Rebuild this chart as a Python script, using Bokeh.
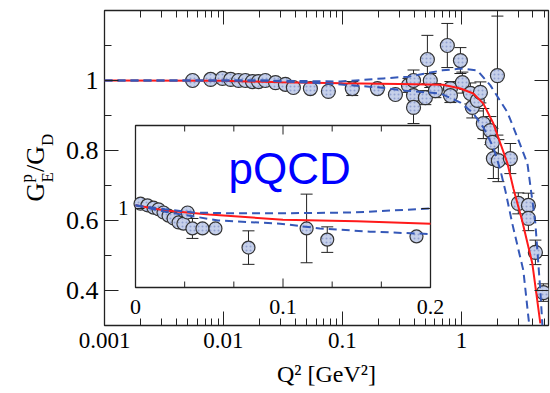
import math
from bokeh.plotting import figure
from bokeh.models import (ColumnDataSource, Whisker, TeeHead, LogAxis, LinearAxis,
                          FixedTicker, Range1d, LinearScale)
from bokeh.layouts import row
from bokeh.core.properties import value
from bokeh.embed import file_html
from bokeh.resources import INLINE

# ---------------- main panel data ----------------
q2 = [0.0055, 0.0078, 0.0098, 0.0115, 0.0134, 0.0153, 0.0175, 0.0197, 0.0225,
      0.0274, 0.0332, 0.0387, 0.0538, 0.0762, 0.121, 0.197, 0.279, 0.359,
      0.396, 0.396, 0.396, 0.498, 0.518, 0.548, 0.605, 0.762, 0.809, 0.809,
      0.982, 1.019, 1.19, 1.236, 1.362, 1.445, 1.53, 1.753, 1.823, 1.858,
      2.009, 2.046, 2.58, 3.01, 3.66, 3.66, 4.19, 4.89]
ratio = [1.000, 1.003, 1.006, 1.003, 1.000, 1.000, 0.997, 0.997, 1.000,
         0.994, 0.989, 0.980, 0.977, 0.969, 0.977, 0.977, 0.960, 0.986,
         1.000, 0.957, 0.923, 0.951, 1.060, 1.000, 0.971, 1.100, 0.977, 0.957,
         1.057, 0.994, 0.963, 0.923, 0.943, 0.966, 0.877, 0.857, 0.823, 0.777,
         1.014, 0.771, 0.777, 0.649, 0.643, 0.606, 0.509, 0.394]
ratio_err = [0.004, 0.004, 0.004, 0.004, 0.004, 0.004, 0.004, 0.004, 0.004,
             0.005, 0.005, 0.006, 0.006, 0.008, 0.020, 0.012, 0.012, 0.020,
             0.030, 0.030, 0.046, 0.020, 0.069, 0.020, 0.020, 0.063, 0.020, 0.020,
             0.037, 0.030, 0.030, 0.030, 0.030, 0.030, 0.043, 0.040, 0.040, 0.057,
             0.170, 0.060, 0.043, 0.030, 0.035, 0.035, 0.035, 0.025]

fit_q2 = [0.001, 0.01, 0.03, 0.1, 0.3, 0.7, 0.982, 1.26, 1.53, 1.858, 2.13,
          2.44, 2.74, 3.24, 3.95, 4.61]
fit_ratio = [1.0, 0.999, 0.995, 0.992, 0.990, 0.988, 0.977, 0.963, 0.934,
             0.877, 0.820, 0.763, 0.691, 0.600, 0.477, 0.306]

upper_q2 = [0.001, 0.0205, 0.096, 0.221, 0.359, 0.692, 0.982, 1.362, 1.753,
            2.44, 2.96, 3.59, 4.19, 4.61, 4.80]
upper_ratio = [1.0, 1.0, 0.997, 1.006, 1.011, 1.029, 1.034, 1.029, 0.986,
               0.909, 0.837, 0.763, 0.591, 0.400, 0.300]

lower_q2 = [0.001, 0.0205, 0.0792, 0.208, 0.338, 0.667, 0.982, 1.26, 1.53,
            1.858, 2.13, 2.34, 2.68, 3.32, 3.66, 3.73]
lower_ratio = [1.0, 1.0, 0.991, 0.980, 0.971, 0.963, 0.937, 0.906, 0.866,
               0.809, 0.743, 0.686, 0.591, 0.457, 0.323, 0.300]

x_ticks = [0.001, 0.01, 0.1, 1.0]
x_tick_labels = ["0.001", "0.01", "0.1", "1"]
y_ticks = [0.4, 0.6, 0.8, 1.0]
y_tick_labels = ["0.4", "0.6", "0.8", "1"]
y_minor = [0.5, 0.7, 0.9, 1.1]

# ---------------- inset data ----------------
in_q2 = [0.0034, 0.0081, 0.0122, 0.0156, 0.019, 0.0224, 0.0258, 0.0292,
         0.0325, 0.0353, 0.0386, 0.0454, 0.0542, 0.0766, 0.116, 0.130, 0.1905]
in_ratio = [1.006, 1.004, 1.001, 0.999, 0.995, 0.991, 0.9875, 0.9825,
            0.981, 0.995, 0.975, 0.975, 0.975, 0.951, 0.975, 0.961, 0.965]
in_err = [0.002, 0.002, 0.002, 0.002, 0.002, 0.002, 0.002, 0.002,
          0.002, 0.002, 0.0125, 0.004, 0.004, 0.021, 0.043, 0.016, 0.004]

in_fit_q2 = [0.0, 0.02, 0.05, 0.1, 0.15, 0.2]
in_fit_ratio = [1.004, 0.9975, 0.9925, 0.986, 0.984, 0.981]
in_up_q2 = [0.0, 0.02, 0.039, 0.064, 0.1, 0.148, 0.2]
in_up_ratio = [1.004, 0.999, 0.995, 0.994, 0.994, 0.995, 1.0]
in_lo_q2 = [0.0, 0.02, 0.056, 0.098, 0.125, 0.159, 0.2]
in_lo_ratio = [1.004, 0.996, 0.985, 0.981, 0.975, 0.971, 0.968]

in_x_range = (0.0, 0.2)
in_y_range = (0.901, 1.104)
in_x_ticks = [0.0, 0.1, 0.2]
in_x_tick_labels = ["0", "0.1", "0.2"]
in_x_minor = [1 / 30, 2 / 30, 4 / 30, 5 / 30]
in_y_ticks = [1.0]
in_y_tick_labels = ["1"]

# y-axis title pieces: G_E^p / G_D
title_parts = ["G", "E", "p", "/G", "D"]

# ---------------- layout (pixels, page coordinates) ----------------
W, H = 550, 393
TW = 60                                     # width of the y-title strip
FL, FR, FT, FB = 104, 548, 10, 325          # main frame box
IL, IR, IT, IB = 135, 430, 125, 287         # inset frame box
XR = (0.001, 5.4)
YR = (0.3, 1.2)

SERIF = "Liberation Serif"
RED = "#ff1a1a"
BLUE = "#3558b8"
FILL = "#c6d0ea"
EDGE = "#333333"
INK = "#222222"
HALF = math.pi / 2


def style_axis(ax, ticker, major_in, minor_in, size=None, overrides=None, standoff=6):
    ax.ticker = ticker
    ax.major_tick_in = major_in
    ax.major_tick_out = 0
    ax.minor_tick_in = minor_in
    ax.minor_tick_out = 0
    ax.axis_line_color = None
    ax.major_tick_line_color = INK
    ax.minor_tick_line_color = INK
    ax.major_label_text_font = SERIF
    ax.major_label_standoff = standoff
    if overrides is None:
        ax.major_label_text_font_size = "1px"
        ax.major_label_text_color = None
        ax.major_label_standoff = 0
    else:
        ax.major_label_text_color = "black"
        ax.major_label_text_font_size = size
        ax.major_label_overrides = overrides


p = figure(width=W - TW, height=H, x_axis_type="log", x_range=XR, y_range=YR,
           output_backend="svg", toolbar_location=None,
           min_border_left=FL - TW, min_border_right=W - FR, min_border_top=FT,
           min_border_bottom=H - FB)
p.grid.visible = False
p.outline_line_color = INK
p.outline_line_width = 1.3
p.background_fill_color = "white"
p.border_fill_color = "white"

x_minor = [m * 10.0 ** e for e in (-3, -2, -1) for m in range(2, 10)] + [2.0, 3.0, 4.0, 5.0]
style_axis(p.xaxis[0], FixedTicker(ticks=x_ticks, minor_ticks=x_minor), 14, 7, "23px",
           dict(zip(x_ticks, x_tick_labels)), standoff=7)
style_axis(p.yaxis[0], FixedTicker(ticks=y_ticks, minor_ticks=y_minor), 14, 7, "26px",
           dict(zip(y_ticks, y_tick_labels)), standoff=6)
p.xaxis[0].axis_label = "Q² [GeV²]"
p.xaxis[0].axis_label_text_font = SERIF
p.xaxis[0].axis_label_text_font_size = "24px"
p.xaxis[0].axis_label_text_font_style = "normal"
p.xaxis[0].axis_label_text_color = "black"
p.xaxis[0].axis_label_standoff = 10

top_ax = LogAxis()
style_axis(top_ax, FixedTicker(ticks=x_ticks, minor_ticks=x_minor), 14, 7)
p.add_layout(top_ax, "above")
right_ax = LinearAxis()
style_axis(right_ax, FixedTicker(ticks=y_ticks, minor_ticks=y_minor), 14, 7)
p.add_layout(right_ax, "right")

# ---- main data ----
src = ColumnDataSource(dict(q2=q2, r=ratio,
                            up=[a + b for a, b in zip(ratio, ratio_err)],
                            lo=[a - b for a, b in zip(ratio, ratio_err)]))
wh = Whisker(source=src, base="q2", upper="up", lower="lo", dimension="height",
             line_color=INK, line_width=1, level="underlay",
             upper_head=TeeHead(size=12, line_color=INK, line_width=1),
             lower_head=TeeHead(size=12, line_color=INK, line_width=1))
p.add_layout(wh)
p.scatter("q2", "r", source=src, size=14, fill_color=FILL, line_color=EDGE,
          line_width=1.2, hatch_pattern=".", hatch_color="#7d8fc8",
          hatch_scale=4, hatch_alpha=0.7)
p.line(fit_q2, fit_ratio, line_color=RED, line_width=2)
p.line(upper_q2, upper_ratio, line_color=BLUE, line_width=2, line_dash="8 5")
p.line(lower_q2, lower_ratio, line_color=BLUE, line_width=2, line_dash="8 5")

# ---- inset, drawn on its own linear ranges inside the main frame ----
sx = (in_x_range[1] - in_x_range[0]) / (IR - IL)
sy = (in_y_range[1] - in_y_range[0]) / (IB - IT)
p.extra_x_ranges = {"ix": Range1d(in_x_range[0] - (IL - FL) * sx, in_x_range[1] + (FR - IR) * sx)}
p.extra_y_ranges = {"iy": Range1d(in_y_range[0] - (FB - IB) * sy, in_y_range[1] + (IT - FT) * sy)}
p.extra_x_scales = {"ix": LinearScale()}
p.extra_y_scales = {"iy": LinearScale()}
IN = dict(x_range_name="ix", y_range_name="iy")

p.quad(left=[in_x_range[0]], right=[in_x_range[1]], bottom=[in_y_range[0]],
       top=[in_y_range[1]], fill_color="white", line_color=INK, line_width=1.3, **IN)

isrc = ColumnDataSource(dict(q2=in_q2, r=in_ratio,
                             up=[a + b for a, b in zip(in_ratio, in_err)],
                             lo=[a - b for a, b in zip(in_ratio, in_err)]))
p.segment(x0="q2", y0="lo", x1="q2", y1="up", source=isrc, line_color=INK,
          line_width=1, **IN)
p.scatter("q2", "up", source=isrc, marker="dash", size=12, line_color=INK, line_width=1, **IN)
p.scatter("q2", "lo", source=isrc, marker="dash", size=12, line_color=INK, line_width=1, **IN)
p.scatter("q2", "r", source=isrc, size=13, fill_color=FILL, line_color=EDGE,
          line_width=1.2, hatch_pattern=".", hatch_color="#7d8fc8",
          hatch_scale=4, hatch_alpha=0.7, **IN)
p.line(in_fit_q2, in_fit_ratio, line_color=RED, line_width=2, **IN)
p.line(in_up_q2, in_up_ratio, line_color=BLUE, line_width=2, line_dash="8 5", **IN)
p.line(in_lo_q2, in_lo_ratio, line_color=BLUE, line_width=2, line_dash="8 5", **IN)

# inset ticks (inward, screen-length rays from the inset frame edges)
for ticks, ln in ((in_x_ticks, 9), (in_x_minor, 6)):
    p.ray(x=ticks, y=[in_y_range[0]] * len(ticks), length=ln, length_units="screen",
          angle=HALF, line_color=INK, line_width=1, **IN)
    p.ray(x=ticks, y=[in_y_range[1]] * len(ticks), length=ln, length_units="screen",
          angle=-HALF, line_color=INK, line_width=1, **IN)
p.ray(x=[in_x_range[0]] * len(in_y_ticks), y=in_y_ticks, length=9, length_units="screen",
      angle=0, line_color=INK, line_width=1, **IN)
p.ray(x=[in_x_range[1]] * len(in_y_ticks), y=in_y_ticks, length=9, length_units="screen",
      angle=math.pi, line_color=INK, line_width=1, **IN)

# inset tick labels
p.text(x=in_x_ticks, y=[in_y_range[0]] * len(in_x_ticks), text=in_x_tick_labels,
       y_offset=19, text_align="center", text_baseline="middle",
       text_font=value(SERIF), text_font_size="22px", text_color="black", **IN)
p.text(x=[in_x_range[0]] * len(in_y_ticks), y=in_y_ticks, text=in_y_tick_labels,
       x_offset=-7, text_align="right", text_baseline="middle",
       text_font=value(SERIF), text_font_size="21px", text_color="black", **IN)

# pQCD tag (left edge x=228 px, text centre y=168 px)
p.text(x=[in_x_range[0] + (228 - IL) * sx], y=[in_y_range[0] + (IB - 168) * sy],
       text=["pQCD"], text_align="left", text_baseline="middle",
       text_font=value("Liberation Sans"), text_font_size="44px",
       text_color="#0000ff", **IN)

# ---------------- y-title strip (its own frame, pixel ranges) ----------------
t = figure(width=TW, height=H, x_range=(0, TW), y_range=(FB, FT),
           output_backend="svg", toolbar_location=None,
           x_axis_location=None, y_axis_location=None,
           min_border_left=0, min_border_right=0, min_border_top=FT,
           min_border_bottom=H - FB)
t.grid.visible = False
t.outline_line_color = None
t.background_fill_color = "white"
t.border_fill_color = "white"

# text centres across (x) and start positions along (y) of each piece
part_x = [35, 47, 26, 35, 47]
part_y = [201, 182, 182, 171.5, 145.5]
part_size = ["26px", "17px", "17px", "26px", "17px"]
for txt, xx, yy, fs in zip(title_parts, part_x, part_y, part_size):
    t.text(x=[xx], y=[yy], text=[txt], angle=HALF, text_align="left",
           text_baseline="middle", text_font=value(SERIF), text_font_size=fs,
           text_color="black")

open("out.html", "w").write(file_html(row(t, p), INLINE))
